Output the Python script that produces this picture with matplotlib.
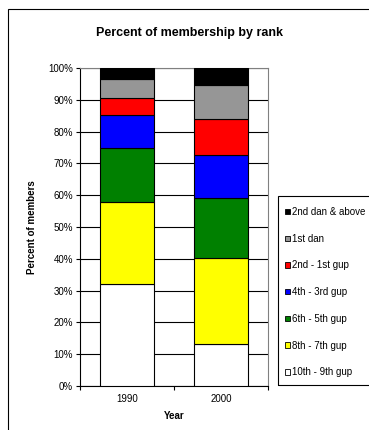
import matplotlib.pyplot as plt
import numpy as np
from matplotlib.patches import Patch, Rectangle
from matplotlib.ticker import FuncFormatter

plt.rcParams['font.family'] = ['Liberation Sans', 'DejaVu Sans']

years = ['1990', '2000']
ranks = ['10th - 9th gup', '8th - 7th gup', '6th - 5th gup', '4th - 3rd gup',
         '2nd - 1st gup', '1st dan', '2nd dan & above']
colors = ['#ffffff', '#ffff00', '#008000', '#0000ff', '#ff0000', '#969696', '#000000']

# percent of members per rank, per year
pct_1990 = [32.2, 25.8, 16.8, 10.4, 5.3, 6.1, 3.4]
pct_2000 = [13.2, 26.9, 19.0, 13.5, 11.3, 10.6, 5.5]

fig = plt.figure(figsize=(3.69, 4.30), dpi=100)
ax = fig.add_axes([80/369, 1-386/430, 188/369, 318/430])

x = np.arange(len(years))
data = np.array([pct_1990, pct_2000])
bottom = np.zeros(len(years))
for i in range(len(ranks)):
    ax.bar(x, data[:, i], 0.585, bottom=bottom, color=colors[i],
           edgecolor='black', linewidth=0.8, zorder=3)
    bottom += data[:, i]

ax.set_xlim(-0.5, 1.5)
ax.set_ylim(0, 100)
ax.set_yticks(np.arange(0, 101, 10))
ax.yaxis.set_major_formatter(FuncFormatter(lambda v, p: '%d%%' % v))
ax.yaxis.grid(True, color='black', linewidth=0.8, zorder=0)
ax.set_axisbelow(True)

ax.set_xticks([-0.5, 0.5, 1.5])
ax.set_xticklabels([])
ax.set_xticks(x, minor=True)
ax.set_xticklabels(years, minor=True)
ax.tick_params(axis='x', which='minor', length=0, pad=6, labelsize=7)
ax.tick_params(axis='x', which='major', length=3, width=0.8)
ax.tick_params(axis='y', length=3, width=0.8, labelsize=7, pad=2)

for s in ['top', 'right']:
    ax.spines[s].set_color('#808080')
    ax.spines[s].set_linewidth(0.8)
for s in ['left', 'bottom']:
    ax.spines[s].set_linewidth(0.8)

ax.set_xlabel('Year', fontsize=7, fontweight='bold', labelpad=5)
ax.set_ylabel('Percent of members', fontsize=7, fontweight='bold', labelpad=8)
fig.text(190/369, 1-33/430, 'Percent of membership by rank', ha='center', va='center',
         fontsize=9, fontweight='bold')

handles = [Patch(facecolor=colors[i], edgecolor='black', linewidth=0.6, label=ranks[i])
           for i in range(len(ranks) - 1, -1, -1)]
leg = fig.legend(handles=handles, loc='upper left', bbox_to_anchor=(285/369, 1-207/430),
                 fontsize=7, frameon=False,
                 handlelength=0.5, handleheight=0.5, handletextpad=0.25,
                 labelspacing=1.72, borderpad=0, borderaxespad=0)

# legend box (runs past the right edge like the original)
fig.patches.append(Rectangle((278/369, 1-385/430), 0.3, 189/430, transform=fig.transFigure,
                             fill=False, edgecolor='black', linewidth=0.8))

# outer chart frame
fig.patches.append(Rectangle((8/369, -0.1), 1.2, 1.1 - 9/430, transform=fig.transFigure,
                             fill=False, edgecolor='black', linewidth=0.8))

fig.savefig('out.png', dpi=100)
